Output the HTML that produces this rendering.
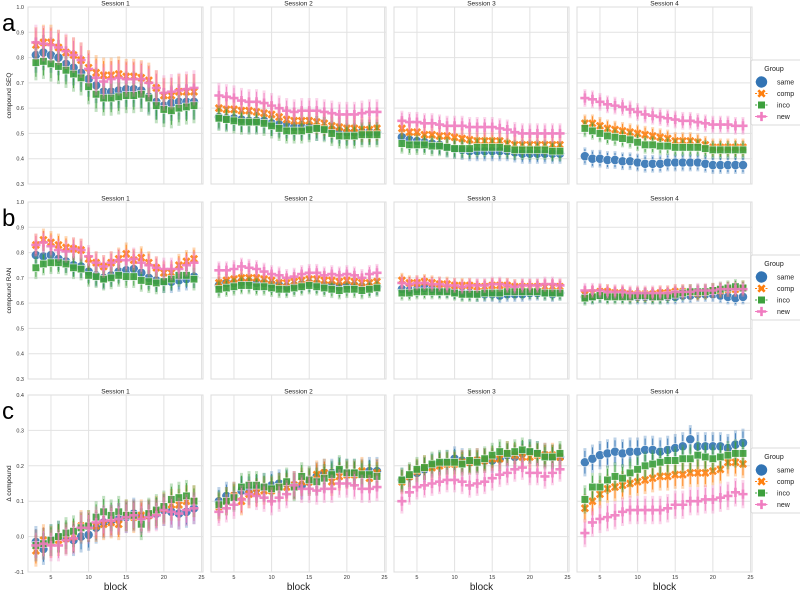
<!DOCTYPE html>
<html><head><meta charset="utf-8">
<style>
body{margin:0;background:#fff;font-family:"Liberation Sans",sans-serif;}
svg{display:block}
</style></head>
<body>
<svg id="c" width="800" height="592" viewBox="0 0 800 592" xmlns="http://www.w3.org/2000/svg"></svg>
<script>
const blocks=[3,4,5,6,7,8,9,10,11,12,13,14,15,16,17,18,19,20,21,22,23,24];
const groups=["same","comp","inco","new"];
const sessions=["Session 1","Session 2","Session 3","Session 4"];
const xTicks=[5,10,15,20,25];
const yTicksA=[0.3,0.4,0.5,0.6,0.7,0.8,0.9,1.0];
const yTicksC=[-0.1,0.0,0.1,0.2,0.3,0.4];
const rowTitles=["compound SEQ","compound RAN","Δ compound"];
const rowLetters=["a","b","c"];
// row a
const seqSame=[[.81,.82,.81,.80,.775,.76,.74,.715,.69,.665,.665,.67,.675,.675,.67,.645,.625,.61,.62,.625,.625,.625],[.565,.56,.56,.555,.55,.55,.55,.54,.535,.53,.525,.525,.525,.52,.52,.515,.51,.505,.505,.505,.505,.505],[.485,.475,.47,.465,.46,.455,.445,.44,.435,.43,.43,.43,.43,.43,.43,.425,.42,.42,.42,.42,.42,.42],[.41,.40,.40,.395,.395,.39,.39,.385,.38,.38,.38,.385,.385,.385,.385,.385,.38,.375,.375,.375,.375,.375]];
const seqComp=[[.85,.86,.86,.84,.82,.81,.79,.76,.74,.73,.73,.735,.725,.725,.72,.71,.68,.65,.65,.665,.665,.665],[.60,.595,.595,.59,.59,.585,.58,.575,.565,.555,.55,.55,.55,.545,.54,.53,.525,.52,.52,.515,.515,.52],[.52,.505,.505,.495,.495,.49,.49,.485,.48,.475,.47,.47,.47,.47,.46,.455,.455,.455,.455,.455,.455,.455],[.54,.54,.53,.52,.515,.51,.505,.50,.495,.49,.485,.48,.47,.47,.47,.465,.455,.445,.445,.445,.445,.445]];
const seqInco=[[.78,.785,.775,.765,.75,.735,.72,.685,.655,.64,.64,.645,.65,.65,.655,.64,.61,.595,.59,.60,.605,.61],[.56,.555,.55,.545,.545,.545,.54,.53,.52,.51,.51,.51,.515,.52,.515,.50,.49,.49,.49,.495,.495,.495],[.46,.455,.455,.455,.45,.45,.445,.44,.44,.44,.445,.445,.445,.445,.44,.435,.435,.435,.435,.435,.43,.43],[.52,.51,.50,.49,.485,.48,.475,.465,.455,.455,.45,.45,.445,.445,.445,.445,.44,.435,.435,.435,.435,.435]];
const seqNew=[[.86,.855,.85,.84,.825,.81,.79,.755,.72,.705,.715,.72,.715,.715,.715,.70,.68,.66,.665,.67,.675,.68],[.65,.645,.64,.63,.625,.625,.62,.61,.60,.59,.585,.59,.59,.59,.585,.58,.575,.575,.575,.58,.585,.585],[.55,.545,.545,.54,.54,.535,.53,.53,.53,.525,.525,.525,.525,.52,.515,.505,.50,.50,.50,.50,.50,.50],[.64,.635,.625,.615,.61,.605,.595,.585,.575,.57,.565,.56,.555,.55,.55,.545,.54,.535,.535,.535,.53,.53]];
// row b
const ranSame=[[.79,.785,.79,.775,.765,.75,.745,.725,.71,.70,.71,.725,.73,.735,.72,.70,.69,.685,.685,.69,.695,.705],[.67,.68,.68,.685,.685,.68,.68,.675,.67,.665,.67,.675,.68,.675,.67,.67,.665,.67,.67,.665,.665,.665],[.655,.65,.655,.66,.655,.65,.65,.645,.64,.64,.635,.635,.635,.63,.635,.635,.635,.64,.64,.64,.635,.64],[.625,.625,.63,.63,.63,.63,.625,.625,.625,.625,.625,.625,.625,.63,.63,.635,.635,.635,.63,.625,.62,.625]];
const ranComp=[[.83,.85,.84,.83,.82,.815,.81,.775,.76,.745,.76,.775,.795,.77,.78,.76,.74,.72,.72,.75,.765,.775],[.68,.69,.695,.70,.70,.70,.695,.69,.68,.68,.685,.69,.695,.695,.69,.69,.685,.69,.685,.68,.68,.685],[.69,.68,.68,.685,.68,.675,.675,.67,.67,.67,.665,.665,.67,.67,.67,.665,.665,.665,.665,.665,.665,.665],[.635,.64,.645,.645,.64,.64,.635,.635,.635,.635,.64,.64,.645,.645,.645,.64,.645,.65,.65,.655,.655,.66]];
const ranInco=[[.74,.755,.76,.76,.755,.74,.735,.71,.705,.695,.70,.71,.705,.705,.69,.685,.68,.685,.695,.71,.71,.695],[.655,.66,.665,.67,.67,.665,.665,.66,.655,.655,.66,.665,.67,.665,.66,.655,.65,.655,.655,.65,.655,.66],[.64,.64,.645,.645,.645,.645,.645,.64,.635,.635,.635,.64,.64,.64,.645,.645,.645,.645,.645,.64,.64,.64],[.62,.625,.63,.625,.625,.625,.625,.63,.63,.625,.625,.63,.635,.64,.645,.645,.645,.65,.655,.66,.665,.66]];
const ranNew=[[.83,.84,.825,.81,.805,.815,.81,.785,.76,.745,.76,.77,.77,.775,.76,.75,.74,.735,.735,.735,.75,.76],[.73,.73,.735,.745,.74,.735,.725,.715,.71,.70,.705,.715,.72,.72,.71,.715,.71,.715,.71,.70,.715,.72],[.68,.675,.68,.68,.675,.675,.67,.67,.665,.67,.67,.67,.675,.675,.67,.665,.67,.67,.67,.675,.675,.67],[.65,.65,.65,.645,.645,.645,.64,.64,.64,.64,.64,.64,.645,.645,.645,.65,.65,.65,.655,.655,.655,.655]];
// row c
const dSame=[[-.015,-.035,-.01,0,-.005,-.01,0,.005,.025,.04,.045,.05,.055,.065,.055,.06,.065,.075,.07,.065,.07,.08],[.10,.115,.115,.13,.13,.135,.14,.145,.15,.15,.145,.145,.155,.17,.18,.18,.185,.18,.18,.18,.185,.185],[.16,.17,.18,.19,.20,.205,.21,.22,.215,.21,.215,.215,.215,.22,.23,.225,.235,.24,.235,.23,.225,.225],[.21,.22,.23,.235,.24,.235,.24,.24,.245,.245,.24,.245,.25,.255,.275,.255,.255,.255,.255,.25,.26,.265]];
const dComp=[[-.04,-.01,-.015,-.01,-.005,0,.03,.03,.03,.035,.04,.035,.06,.055,.06,.06,.07,.08,.09,.09,.10,.10],[.085,.10,.115,.10,.12,.125,.13,.13,.14,.14,.145,.155,.155,.175,.18,.155,.17,.175,.175,.185,.165,.18],[.155,.17,.185,.195,.195,.20,.205,.205,.21,.21,.215,.215,.22,.22,.235,.23,.225,.225,.23,.23,.23,.225],[.08,.10,.12,.135,.14,.145,.15,.155,.16,.165,.17,.17,.175,.175,.18,.18,.18,.185,.19,.21,.21,.205]];
const dInco=[[-.025,-.02,-.01,0,.01,.015,.025,.03,.055,.07,.06,.07,.06,.06,.035,.065,.075,.085,.105,.11,.115,.10],[.09,.10,.11,.14,.145,.145,.14,.135,.14,.155,.14,.17,.16,.155,.165,.175,.19,.18,.18,.175,.175,.17],[.16,.175,.19,.195,.205,.21,.21,.21,.205,.215,.21,.22,.23,.24,.235,.24,.245,.24,.235,.225,.225,.235],[.105,.14,.14,.16,.17,.165,.18,.19,.20,.205,.21,.215,.215,.22,.22,.23,.225,.22,.225,.23,.235,.235]];
const dNew=[[-.025,-.02,-.025,-.025,-.01,-.005,.025,.025,.04,.045,.045,.05,.055,.06,.05,.055,.06,.075,.07,.065,.075,.08],[.07,.08,.09,.105,.12,.115,.11,.10,.11,.12,.145,.135,.135,.13,.135,.135,.15,.15,.145,.135,.135,.14],[.10,.125,.14,.145,.15,.155,.16,.16,.155,.145,.15,.155,.165,.175,.18,.19,.195,.18,.18,.17,.18,.19],[.01,.04,.05,.055,.06,.07,.075,.075,.075,.075,.075,.08,.09,.09,.10,.10,.105,.105,.11,.115,.125,.12]];
const errA=[0.07,0.05,0.04,0.035];
const errB=[0.045,0.035,0.03,0.03];
const errC=[0.045,0.04,0.035,0.04];

const rowsData=[[seqSame,seqComp,seqInco,seqNew],[ranSame,ranComp,ranInco,ranNew],[dSame,dComp,dInco,dNew]];
const rowErr=[errA,errB,errC];
const rowTicks=[yTicksA,yTicksA,yTicksC];
const rowDom=[[0.3,1.0],[0.3,1.0],[-0.1,0.4]];
const colors={same:"#3274b4",comp:"#ff7f0e",inco:"#3ca03c",new:"#f07cc0"};

const svg=document.getElementById('c');
const NS="http://www.w3.org/2000/svg";
function mk(tag,attrs,parent){const e=document.createElementNS(NS,tag);for(const k in attrs)e.setAttribute(k,attrs[k]);(parent||svg).appendChild(e);return e;}
const panelX=[28,211,394,577],PW=175,rowY=[7,202,395],PH=177;
const xMin=1.95,xMax=25.2;

function marker(g,grp,cx,cy){
  const c=colors[grp];
  if(grp==="same"){return mk('circle',{cx:cx,cy:cy,r:4.6,fill:c,stroke:"#fff","stroke-width":0.6},g);}
  if(grp==="inco"){return mk('rect',{x:cx-3.8,y:cy-3.8,width:7.6,height:7.6,fill:c,stroke:"#fff","stroke-width":0.6},g);}
  if(grp==="comp"){const s=3.2;return mk('path',{d:`M${cx-s},${cy-s}L${cx+s},${cy+s}M${cx+s},${cy-s}L${cx-s},${cy+s}`,stroke:c,"stroke-width":2.6,fill:"none"},g);}
  const s=4.6;return mk('path',{d:`M${cx-s},${cy}L${cx+s},${cy}M${cx},${cy-s}L${cx},${cy+s}`,stroke:c,"stroke-width":2.6,fill:"none"},g);
}

for(let r=0;r<3;r++){
  const [y0,y1]=rowDom[r];
  const yS=v=>rowY[r]+PH-(v-y0)/(y1-y0)*PH;
  const lt=mk('text',{x:2,y:rowY[r]+24,"font-size":24,fill:"#000"});lt.textContent=rowLetters[r];
  
  
  const yt=mk('text',{x:0,y:0,"font-size":6.5,fill:"#222","text-anchor":"middle",transform:`translate(11,${rowY[r]+PH/2}) rotate(-90)`});yt.textContent=rowTitles[r];
  
  
  for(let s=0;s<4;s++){
    const px=panelX[s];
    const xS=v=>px+(v-xMin)/(xMax-xMin)*PW;
    const g=mk('g',{});
    
    
    mk('rect',{x:px,y:rowY[r],width:PW,height:PH,fill:"#fff",stroke:"#dcdcdc","stroke-width":1},g);
    rowTicks[r].forEach(t=>{const y=yS(t);if(y>rowY[r]+0.5&&y<rowY[r]+PH-0.5)mk('line',{x1:px,x2:px+PW,y1:y,y2:y,stroke:"#e2e2e2","stroke-width":1},g);});
    xTicks.forEach(t=>{const x=xS(t);if(x<px+PW-1)mk('line',{x1:x,x2:x,y1:rowY[r],y2:rowY[r]+PH,stroke:"#e2e2e2","stroke-width":1},g);});
    const ti=mk('text',{x:px+PW/2,y:rowY[r]-1.5,"font-size":6.5,fill:"#222","text-anchor":"middle"},g);ti.textContent=sessions[s];
    
    
    if(s===0){rowTicks[r].forEach(t=>{const tl=mk('text',{x:px-4,y:yS(t)+2,"font-size":5.5,fill:"#333","text-anchor":"end"},g);tl.textContent=t.toFixed(1);
      
      });}
    if(r===2){xTicks.forEach(t=>{const tl=mk('text',{x:xS(t),y:rowY[r]+PH+7,"font-size":5.5,fill:"#333","text-anchor":"middle"},g);tl.textContent=t;
      
      });
      const xl=mk('text',{x:px+PW/2,y:590,"font-size":10,fill:"#222","text-anchor":"middle"},g);xl.textContent="block";
      
      }
    const err=rowErr[r][s];
    groups.forEach((grp,gi)=>{
      const vals=rowsData[r][gi][s];
      const sg=mk('g',{opacity:0.9},g);
      
      
      vals.forEach((v,i)=>{
        const x=xS(blocks[i]);
        mk('line',{x1:x,x2:x,y1:yS(v-err),y2:yS(v+err),stroke:colors[grp],"stroke-width":3,"stroke-opacity":0.35},sg);
        mk('line',{x1:x,x2:x,y1:yS(v-err*0.8),y2:yS(v+err*0.8),stroke:colors[grp],"stroke-width":1},sg);
      });
      vals.forEach((v,i)=>{
        const m=marker(sg,grp,xS(blocks[i]),yS(v));
        
        
      });
    });
  }
  // legend
  const ly=rowY[r]+53;
  const lg=mk('g',{});
  
  
  mk('rect',{x:751,y:ly,width:52,height:65,fill:"#fff",stroke:"#d0d0d0","stroke-width":0.8,rx:2},lg);
  const lt2=mk('text',{x:774,y:ly+11,"font-size":7,fill:"#222","text-anchor":"middle"},lg);lt2.textContent="Group";
  
  
  groups.forEach((grp,gi)=>{
    const yy=ly+22+gi*11.5;
    const eg=mk('g',{},lg);
    
    
    mk('line',{x1:755,x2:768,y1:yy,y2:yy,stroke:colors[grp],"stroke-width":1,"stroke-dasharray":"2,1.5"},eg);
    const m=marker(eg,grp,761.5,yy);
    if(grp==="same")m.setAttribute('r',6);
    const tx=mk('text',{x:777,y:yy+2.5,"font-size":7,fill:"#222"},eg);tx.textContent=grp;
  });
}
</script>
</body></html>
